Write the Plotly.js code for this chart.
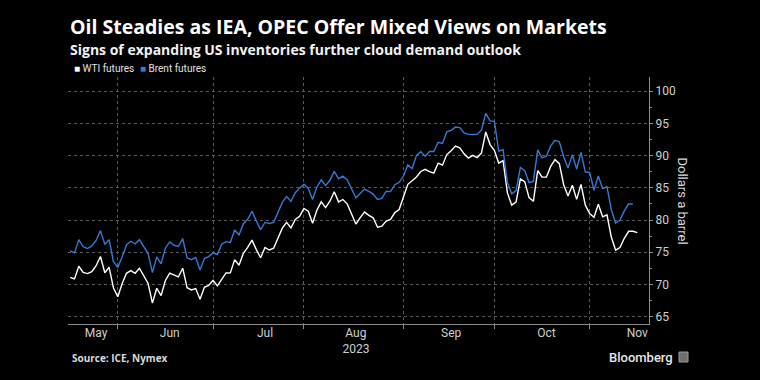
<!DOCTYPE html>
<html>
<head>
<meta charset="utf-8">
<script src="https://cdn.plot.ly/plotly-3.0.1.min.js"></script>
<style>
html,body{margin:0;padding:0;background:#000;}
#chart{width:760px;height:380px;}
</style>
</head>
<body>
<div id="chart"></div>
<script>
// ---- Data (trading days, 2023) ----
const dates = [
 '2023-05-15','2023-05-16','2023-05-17','2023-05-18','2023-05-19','2023-05-22','2023-05-23','2023-05-24','2023-05-25','2023-05-26','2023-05-30','2023-05-31',
 '2023-06-01','2023-06-02','2023-06-05','2023-06-06','2023-06-07','2023-06-08','2023-06-09','2023-06-12','2023-06-13','2023-06-14','2023-06-15','2023-06-16','2023-06-19','2023-06-20','2023-06-21','2023-06-22','2023-06-23','2023-06-26','2023-06-27','2023-06-28','2023-06-29','2023-06-30',
 '2023-07-03','2023-07-04','2023-07-05','2023-07-06','2023-07-07','2023-07-10','2023-07-11','2023-07-12','2023-07-13','2023-07-14','2023-07-17','2023-07-18','2023-07-19','2023-07-20','2023-07-21','2023-07-24','2023-07-25','2023-07-26','2023-07-27','2023-07-28','2023-07-31',
 '2023-08-01','2023-08-02','2023-08-03','2023-08-04','2023-08-07','2023-08-08','2023-08-09','2023-08-10','2023-08-11','2023-08-14','2023-08-15','2023-08-16','2023-08-17','2023-08-18','2023-08-21','2023-08-22','2023-08-23','2023-08-24','2023-08-25','2023-08-28','2023-08-29','2023-08-30','2023-08-31',
 '2023-09-01','2023-09-04','2023-09-05','2023-09-06','2023-09-07','2023-09-08','2023-09-11','2023-09-12','2023-09-13','2023-09-14','2023-09-15','2023-09-18','2023-09-19','2023-09-20','2023-09-21','2023-09-22','2023-09-25','2023-09-26','2023-09-27','2023-09-28','2023-09-29',
 '2023-10-02','2023-10-03','2023-10-04','2023-10-05','2023-10-06','2023-10-09','2023-10-10','2023-10-11','2023-10-12','2023-10-13','2023-10-16','2023-10-17','2023-10-18','2023-10-19','2023-10-20','2023-10-23','2023-10-24','2023-10-25','2023-10-26','2023-10-27','2023-10-30','2023-10-31',
 '2023-11-01','2023-11-02','2023-11-03','2023-11-06','2023-11-07','2023-11-08','2023-11-09','2023-11-10','2023-11-13','2023-11-14','2023-11-15'
];

const wti = [
 71.11,70.86,72.83,71.86,71.69,71.99,72.91,74.34,71.83,72.67,69.46,68.09,
 70.10,71.74,72.15,71.74,72.53,71.29,70.17,67.12,69.42,68.27,70.62,71.78,null,71.19,72.53,69.51,69.16,69.37,67.70,69.56,69.86,70.64,
 69.79,null,71.79,71.80,73.86,72.99,74.83,75.75,76.89,75.42,74.15,75.75,75.35,75.63,77.07,78.74,79.63,78.78,80.09,80.58,81.80,
 81.37,79.49,81.55,82.82,81.94,82.92,84.40,82.82,83.19,82.51,80.99,79.38,80.39,81.25,80.72,80.35,78.89,79.05,79.83,80.10,81.16,81.63,83.63,
 85.55,null,86.69,87.54,87.87,87.51,87.29,88.84,88.52,90.16,90.77,91.48,91.20,90.28,89.63,90.03,89.68,90.39,93.68,91.71,90.79,
 88.82,89.23,84.22,82.31,82.79,86.38,85.97,83.49,82.91,87.69,86.66,86.66,88.32,89.37,88.75,85.49,83.74,85.39,83.21,85.54,82.31,81.02,
 80.44,82.46,80.51,80.82,77.37,75.33,75.74,77.17,78.26,78.26,78.05
];

const brent = [
 75.23,74.91,76.96,75.86,75.58,75.99,76.84,78.36,76.26,76.95,73.54,72.66,
 74.28,76.13,76.71,76.29,76.95,75.96,74.79,71.84,74.29,73.20,75.67,76.61,76.09,75.90,77.12,74.14,73.85,74.18,72.26,74.03,74.34,74.90,
 74.65,76.25,76.65,76.52,78.47,77.69,79.40,80.11,81.36,79.87,78.50,79.63,79.46,79.64,81.07,82.74,83.64,82.92,84.24,84.99,85.56,
 84.91,83.20,85.14,86.24,85.34,86.17,87.55,86.40,86.81,86.21,84.89,83.45,84.12,84.80,84.46,84.03,83.21,83.36,84.48,84.42,85.49,85.86,86.83,
 88.55,88.00,90.04,90.60,89.92,90.65,90.64,92.06,91.88,93.70,93.93,94.43,94.34,93.53,93.30,93.27,93.29,93.96,96.55,95.38,95.31,
 90.71,90.92,85.81,84.07,84.58,88.15,87.65,85.82,86.00,90.89,89.65,89.90,91.50,92.38,92.16,89.83,88.07,90.13,87.93,90.48,87.45,87.41,
 84.63,86.85,84.89,85.18,81.61,79.54,80.01,81.43,82.52,82.47,null
];

const seriesNames = ['WTI futures', 'Brent futures'];
const monthLabels = ['May', 'Jun', 'Jul', 'Aug<br>2023', 'Sep', 'Oct', 'Nov'];

// ---- Axis configuration ----
const monthLabelDates = ['2023-05-23','2023-06-16','2023-07-18','2023-08-16','2023-09-15','2023-10-17','2023-11-15'];
const monthGridDates = ['2023-05-31','2023-06-30','2023-07-31','2023-08-31','2023-09-29','2023-10-31'];
const colors = ['#ffffff', '#3479d4'];

const traces = [
  {x: dates, y: wti, name: seriesNames[0], type: 'scatter', mode: 'lines',
   line: {color: colors[0], width: 1.4}, connectgaps: true, hoverinfo: 'skip'},
  {x: dates, y: brent, name: seriesNames[1], type: 'scatter', mode: 'lines',
   line: {color: colors[1], width: 1.4}, connectgaps: true, hoverinfo: 'skip'}
];

const plotL = 68, plotR = 649, plotT = 77, plotB = 324;
const pw = plotR - plotL, ph = plotB - plotT;
const px = v => (v - plotL) / pw;
const py = v => (plotB - v) / ph;
const headFont = '"Open Sans", Roboto, Arial, sans-serif';

const annotations = [
  {text: '<b>Oil Steadies as IEA, OPEC Offer Mixed Views on Markets</b>', xref: 'paper', yref: 'paper',
   x: px(68), y: py(26.5), xanchor: 'left', yanchor: 'middle', showarrow: false,
   font: {family: headFont, size: 19.5, color: '#ffffff'}},
  {text: '<b>Signs of expanding US inventories further cloud demand outlook</b>', xref: 'paper', yref: 'paper',
   x: px(68), y: py(49.5), xanchor: 'left', yanchor: 'middle', showarrow: false,
   font: {family: headFont, size: 14, color: '#f2f2f2'}},
  {text: 'Dollars a barrel', xref: 'paper', yref: 'paper', x: px(682), y: 0.5,
   xanchor: 'center', yanchor: 'middle', textangle: 90, showarrow: false,
   font: {family: 'Roboto, Arial, sans-serif', size: 13, color: '#d9d9d9'}},
  {text: '<b>Source: ICE, Nymex</b>', xref: 'paper', yref: 'paper', x: px(70), y: py(358),
   xanchor: 'left', yanchor: 'middle', showarrow: false,
   font: {family: headFont, size: 10, color: '#d9d9d9'}},
  {text: 'Bloomberg', xref: 'paper', yref: 'paper', x: px(675), y: py(357),
   xanchor: 'right', yanchor: 'middle', showarrow: false,
   font: {family: 'Roboto, Arial, sans-serif', size: 13, color: '#e6e6e6', weight: 500}}
];

const legendX = [72, 138];
seriesNames.forEach((n, i) => {
  annotations.push({
    text: '<span style="color:' + colors[i] + '">■</span> ' + n,
    xref: 'paper', yref: 'paper', x: px(legendX[i]), y: py(68.5),
    xanchor: 'left', yanchor: 'middle', showarrow: false,
    font: {family: 'Roboto, Arial, sans-serif', size: 10, color: '#e0e0e0'}
  });
});

const layout = {
  width: 760, height: 380,
  paper_bgcolor: '#000000', plot_bgcolor: '#000000',
  margin: {l: plotL, r: 760 - plotR, t: plotT, b: 380 - plotB, pad: 0},
  showlegend: false,
  font: {family: 'Roboto, Arial, sans-serif', color: '#cfcfcf', size: 12},
  xaxis: {
    type: 'date',
    range: ['2023-05-12 12:00', '2023-11-17 17:00'],
    rangebreaks: [{bounds: ['sat', 'mon']}, {values: ['2023-05-29']}],
    tickmode: 'array', tickvals: monthLabelDates, ticktext: monthLabels,
    ticks: '', showgrid: false, zeroline: false, ticklabelstandoff: -2,
    showline: true, linecolor: '#8c8c8c', linewidth: 1,
    tickfont: {size: 12, color: '#cfcfcf'},
    minor: {tickmode: 'array', tickvals: monthGridDates, ticks: 'outside', ticklen: 4,
            tickcolor: '#8c8c8c', showgrid: true, gridcolor: '#5a5a5a', griddash: 'dot', gridwidth: 1},
    fixedrange: true
  },
  yaxis: {
    side: 'right', range: [63.87, 102.2],
    tickmode: 'linear', tick0: 65, dtick: 5,
    ticks: 'outside', ticklen: 3, tickcolor: '#8c8c8c',
    showline: true, linecolor: '#8c8c8c', linewidth: 1,
    showgrid: true, gridcolor: '#5a5a5a', griddash: 'dot', gridwidth: 1,
    zeroline: false,
    tickfont: {size: 12, color: '#cfcfcf'},
    minor: {dtick: 2.5, ticks: 'outside', ticklen: 2, tickcolor: '#8c8c8c', showgrid: false},
    fixedrange: true
  },
  annotations: annotations,
  shapes: [
    {type: 'rect', xref: 'paper', yref: 'paper', x0: px(679), x1: px(688), y0: py(362), y1: py(352),
     line: {color: '#9a9a9a', width: 1}, fillcolor: '#6e6e6e'}
  ]
};

Plotly.newPlot('chart', traces, layout, {staticPlot: true, displayModeBar: false});
</script>
</body>
</html>
